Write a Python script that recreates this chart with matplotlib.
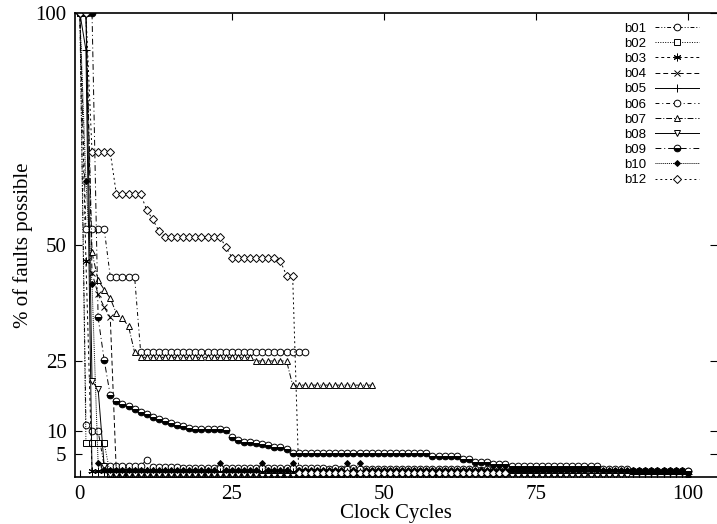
import numpy as np
import matplotlib
matplotlib.use("Agg")
from matplotlib import pyplot as plt

# % of faults still possible per clock cycle (index = clock cycle)
b01 = [100, 11.3, 9.9, 9.9, 2.4, 2.4, 2.4, 2.4, 2.4, 2.4, 2.4, 3.7, 2.2, 2.2, 2.1, 2.1, 2.1, 2.0, 2.0, 2.0,
       2.0, 2.0, 2.0, 1.9, 2.0, 1.9, 1.9, 2.0, 1.9, 1.9, 1.9, 1.9, 2.0, 1.9, 1.9, 1.9, 1.9, 1.9, 1.9, 1.9,
       1.9, 1.8, 1.9, 1.8, 1.8, 1.9, 1.8, 1.8, 1.8, 1.8, 1.8, 1.8, 1.8, 1.8, 1.8, 1.7, 1.8, 1.7, 1.7, 1.7,
       1.7, 1.7, 1.7, 1.7, 1.7, 1.7, 1.6, 1.7, 1.6, 1.6, 1.6, 1.6, 1.6, 1.6, 1.6, 1.6, 1.5, 1.6, 1.5, 1.5,
       1.5, 1.5, 1.5, 1.5, 1.5, 1.5, 1.5, 1.5, 1.4, 1.5, 1.4, 1.4, 1.4, 1.4, 1.4, 1.4, 1.4, 1.4, 1.4, 1.4,
       1.4]
b02 = [100, 7.3, 7.3, 7.3, 7.3, 0.6, 0.6, 0.6, 0.6, 0.6, 0.6, 0.6, 0.6, 0.6, 0.6, 0.6, 0.6, 0.6, 0.6, 0.6,
       0.6, 0.6, 0.6, 0.6, 0.6, 0.6, 0.6, 0.6, 0.6, 0.6, 0.6, 0.6, 0.6, 0.6, 0.6, 0.6, 0.6, 0.6, 0.6, 0.6,
       0.6, 0.6, 0.6, 0.6, 0.5, 0.5, 0.5, 0.5, 0.5, 0.5, 0.5, 0.5, 0.5, 0.5, 0.5, 0.5, 0.5, 0.5, 0.5, 0.5]
b03 = [100, 46.5, 1.2, 1.2, 1.2, 1.2, 1.2, 1.2, 1.2, 1.2, 1.2, 1.2, 1.2, 1.1, 1.2, 1.1, 1.1, 1.1, 1.1, 1.1,
       1.1, 1.1, 1.1, 1.1, 1.1, 1.1, 1.1, 1.1, 1.1, 1.1, 1.1, 1.1, 1.1, 1.1, 1.1, 1.1, 1.1, 1.1, 1.1, 1.1,
       1.1, 1.1, 1.1, 1.1, 1.1, 1.1, 1.1, 1.1, 1.1, 1.1, 1.0, 1.1, 1.0, 1.0, 1.0, 1.0, 1.0, 1.0, 1.0, 1.0,
       1.0, 1.0, 1.0, 1.0, 1.0, 1.0, 1.0, 1.0, 1.0, 1.0, 1.0, 1.0, 1.0, 1.0, 1.0, 1.0, 1.0, 1.0, 1.0, 1.0,
       1.0, 1.0, 1.0, 1.0, 1.0, 1.0, 1.0, 1.0, 1.0, 1.0, 1.0, 1.0, 1.0, 1.0, 1.0, 1.0, 1.0, 1.0, 1.0, 1.0,
       1.0]
b04 = [100, 100, 44.0, 39.4, 36.6, 34.4, 0.9, 0.9, 0.9, 0.9, 0.9, 0.9, 0.9, 0.9, 0.9, 0.9, 0.9, 0.9, 0.9, 0.9,
       0.9, 0.9, 0.8, 0.8, 0.8, 0.8, 0.8, 0.8, 0.8, 0.8, 0.8, 0.8, 0.8, 0.8, 0.8, 0.8, 0.8, 0.8, 0.8, 0.8,
       0.8, 0.8, 0.8, 0.8, 0.8, 0.8, 0.8, 0.8, 0.8, 0.8, 0.8, 0.8, 0.8, 0.8, 0.8, 0.8, 0.8, 0.8, 0.8, 0.8,
       0.8, 0.8, 0.8, 0.8, 0.8, 0.8, 0.8, 0.8, 0.8, 0.8, 0.8, 0.8, 0.8, 0.8, 0.8, 0.8, 0.8, 0.8, 0.8, 0.8]
b05 = [100, 92.0, 1.0, 1.0, 1.0, 1.0, 1.0, 0.9, 0.9, 0.9, 0.9, 0.9, 0.9, 0.9, 0.9, 0.9, 0.9, 0.9, 0.9, 0.9,
       0.9, 0.9, 0.9, 0.9, 0.9, 0.9, 0.9, 0.9, 0.9, 0.9, 0.9, 0.9, 0.9, 0.9, 0.9, 0.9, 0.9, 0.9, 0.9, 0.9,
       0.8, 0.8, 0.8, 0.8, 0.8, 0.8, 0.8, 0.8, 0.8, 0.8, 0.8, 0.8, 0.8, 0.8, 0.8, 0.8, 0.8, 0.8, 0.8, 0.8,
       0.8, 0.8, 0.8, 0.8, 0.8, 0.8, 0.8, 0.8, 0.8, 0.8, 0.7, 0.7, 0.7, 0.7, 0.7, 0.7, 0.7, 0.7, 0.7, 0.7,
       0.7, 0.7, 0.7, 0.7, 0.7, 0.7, 0.7, 0.7, 0.7, 0.7, 0.7, 0.7, 0.7, 0.7, 0.7, 0.7, 0.7, 0.7, 0.7, 0.7,
       0.7]
b06 = [100, 53.5, 53.5, 53.5, 53.5, 43.2, 43.2, 43.2, 43.2, 43.2, 26.9, 26.9, 26.9, 26.9, 26.9, 26.9, 26.9,
       26.9, 26.9, 26.9, 26.9, 26.9, 26.9, 26.9, 26.9, 26.9, 26.9, 26.9, 26.9, 26.9, 26.9, 26.9, 26.9, 26.9,
       26.9, 26.9, 26.9, 26.9]
b07 = [100, 100, 48.4, 42.4, 40.4, 38.5, 35.3, 34.2, 32.5, 26.9, 25.8, 25.8, 25.8, 25.8, 25.8, 25.8, 25.8,
       25.8, 25.8, 25.8, 25.8, 25.8, 25.8, 25.8, 25.8, 25.8, 25.8, 25.8, 25.8, 25.0, 25.0, 25.0, 25.0, 25.0,
       25.0, 19.8, 19.8, 19.8, 19.8, 19.8, 19.8, 19.8, 19.8, 19.8, 19.8, 19.8, 19.8, 19.8, 19.8]
b08 = [100, 100, 20.6, 19.0, 2.4, 0.4, 0.4, 0.4, 0.4, 0.4, 0.4, 0.4, 0.4, 0.4, 0.4, 0.4, 0.4, 0.4, 0.4, 0.4,
       0.4, 0.4, 0.4, 0.4, 0.4, 0.4, 0.4, 0.4, 0.4, 0.4, 0.3, 0.3, 0.3, 0.3, 0.3, 0.3, 0.3, 0.3, 0.3, 0.3,
       0.3, 0.3, 0.3, 0.3, 0.3, 0.3, 0.3, 0.3, 0.3, 0.3, 0.3, 0.3, 0.3, 0.3, 0.3, 0.3, 0.3, 0.3, 0.3, 0.3,
       0.3, 0.3, 0.3, 0.3, 0.3, 0.3, 0.3, 0.3, 0.3, 0.3, 0.3, 0.3, 0.3, 0.3, 0.3, 0.3, 0.3, 0.3, 0.3, 0.3,
       0.3, 0.3, 0.3, 0.3, 0.3, 0.3, 0.3, 0.3, 0.3, 0.3, 0.3]
b09 = [100, 100, 100, 34.4, 25.2, 17.6, 16.3, 15.8, 15.2, 14.6, 14.0, 13.5, 13.0, 12.6, 12.1, 11.7, 11.3,
       10.9, 10.6, 10.4, 10.3, 10.3, 10.3, 10.3, 10.2, 8.6, 8.0, 7.5, 7.5, 7.4, 7.2, 6.8, 6.5, 6.4, 6.0,
       5.2, 5.2, 5.2, 5.2, 5.2, 5.2, 5.2, 5.2, 5.2, 5.2, 5.2, 5.2, 5.2, 5.2, 5.2, 5.2, 5.2, 5.2, 5.2, 5.2,
       5.2, 5.2, 5.2, 4.5, 4.5, 4.5, 4.5, 4.5, 3.9, 3.9, 3.2, 3.2, 3.2, 2.8, 2.8, 2.8, 2.4, 2.4, 2.4, 2.4,
       2.4, 2.4, 2.4, 2.4, 2.4, 2.4, 2.4, 2.4, 2.4, 2.4, 2.4, 1.7, 1.7, 1.7, 1.7, 1.7, 1.3, 1.3, 1.3, 1.3,
       1.3, 1.3, 1.3, 1.3, 1.3, 1.3]
b10 = [100, 63.7, 41.5, 3.0, 1.6, 1.6, 1.6, 1.6, 1.6, 1.6, 1.6, 1.6, 1.6, 1.6, 1.6, 1.6, 1.6, 1.6, 1.6, 1.6,
       1.6, 1.6, 1.6, 3.0, 1.6, 1.6, 1.6, 1.6, 1.6, 1.6, 3.0, 1.6, 1.6, 1.6, 1.6, 3.0, 1.6, 1.6, 1.6, 1.6,
       1.6, 1.6, 1.6, 1.6, 3.0, 1.6, 3.0, 1.5, 1.5, 1.5, 1.5, 1.5, 1.5, 1.5, 1.5, 1.5, 1.5, 1.5, 1.5, 1.5,
       1.5, 1.5, 1.5, 1.5, 1.5, 1.5, 1.5, 1.5, 1.5, 1.5, 1.5, 1.5, 1.5, 1.5, 1.5, 1.5, 1.5, 1.5, 1.5, 1.5,
       1.5, 1.5, 1.5, 1.5, 1.5, 1.5, 1.5, 1.5, 1.5, 1.5, 1.5, 1.5, 1.5, 1.5, 1.5, 1.5, 1.5, 1.5, 1.5, 1.5,
       0.2]
b12 = [100, 100, 70.0, 70.0, 70.0, 70.0, 61.0, 61.0, 61.0, 61.0, 61.0, 57.5, 55.5, 53.0, 51.8, 51.8, 51.8,
       51.8, 51.8, 51.8, 51.8, 51.8, 51.8, 51.8, 49.6, 47.3, 47.3, 47.3, 47.3, 47.3, 47.3, 47.3, 47.3, 46.5,
       43.4, 43.4, 0.9, 0.9, 0.9, 0.9, 0.9, 0.9, 0.9, 0.9, 0.9, 0.9, 0.9, 0.9, 0.9, 0.9, 0.9, 0.9, 0.9, 0.9,
       0.9, 0.9, 0.9, 0.9, 0.9, 0.9, 0.9, 0.9, 0.9, 0.9, 0.9, 0.9, 0.9, 0.9, 0.9, 0.9, 0.9]

series = [("b01", b01), ("b02", b02), ("b03", b03), ("b04", b04), ("b05", b05), ("b06", b06),
          ("b07", b07), ("b08", b08), ("b09", b09), ("b10", b10), ("b12", b12)]

# gnuplot-ish line/point types
styles = {
    "b01": dict(ls=(0, (4, 2, 1, 2, 1, 2)), marker="o", ms=4.8, mfc="white"),
    "b02": dict(ls=(0, (1, 1.5)), marker="s", ms=4.8, mfc="white"),
    "b03": dict(ls=(0, (3, 3)), marker=(6, 2, 0), ms=5.5, mfc="white"),
    "b04": dict(ls=(0, (5, 3)), marker="x", ms=4.8, mfc="white"),
    "b05": dict(ls="-", marker="+", ms=6, mfc="white"),
    "b06": dict(ls=(0, (4, 3, 1, 3)), marker="o", ms=4.8, mfc="white"),
    "b07": dict(ls=(0, (6, 2, 1, 2)), marker="^", ms=4.8, mfc="white"),
    "b08": dict(ls="-", marker="v", ms=4.8, mfc="white"),
    "b09": dict(ls=(0, (6, 3, 1, 3)), marker="o", ms=4.8, mfc="black", fillstyle="bottom",
                markerfacecoloralt="white"),
    "b10": dict(ls=(0, (1, 1)), marker="D", ms=3, mfc="black"),
    "b12": dict(ls=(0, (2, 3)), marker="D", ms=4, mfc="white"),
}

fig = plt.figure(figsize=(7.17, 5.24), dpi=100)
ax = fig.add_axes([75 / 717, 47 / 524, 642 / 717, 464 / 524])

for name, vals in series:
    x = np.arange(len(vals))
    st = styles[name]
    ax.plot(x, vals, color="black", lw=0.7, mec="black", mew=0.7, label=name, **st)

ax.set_xlim(-0.8, 104.8)
ax.set_ylim(0, 100)
ax.set_xticks([0, 25, 50, 75, 100])
ax.set_yticks([5, 10, 25, 50, 100])

serif = "Liberation Serif"
for lab in ax.get_xticklabels() + ax.get_yticklabels():
    lab.set_fontfamily(serif)
    lab.set_fontsize(15)
ax.tick_params(direction="in", length=5, width=0.8, top=True, right=True, pad=6)
ax.spines["right"].set_visible(False)
for s in ["left", "bottom", "top"]:
    ax.spines[s].set_linewidth(1.2)

ax.set_xlabel("Clock Cycles", family=serif, fontsize=15, labelpad=0)
ax.set_ylabel("% of faults possible", family=serif, fontsize=15, labelpad=2)

ax.legend(loc="upper right", bbox_to_anchor=(706 / 717, 1 - 16 / 524), bbox_transform=fig.transFigure,
          frameon=False, prop={"family": "Liberation Sans", "size": 9.5}, markerfirst=False,
          handlelength=3.4, handletextpad=0.6, labelspacing=0.22, numpoints=1, borderpad=0)

fig.savefig("out.png", dpi=100)
